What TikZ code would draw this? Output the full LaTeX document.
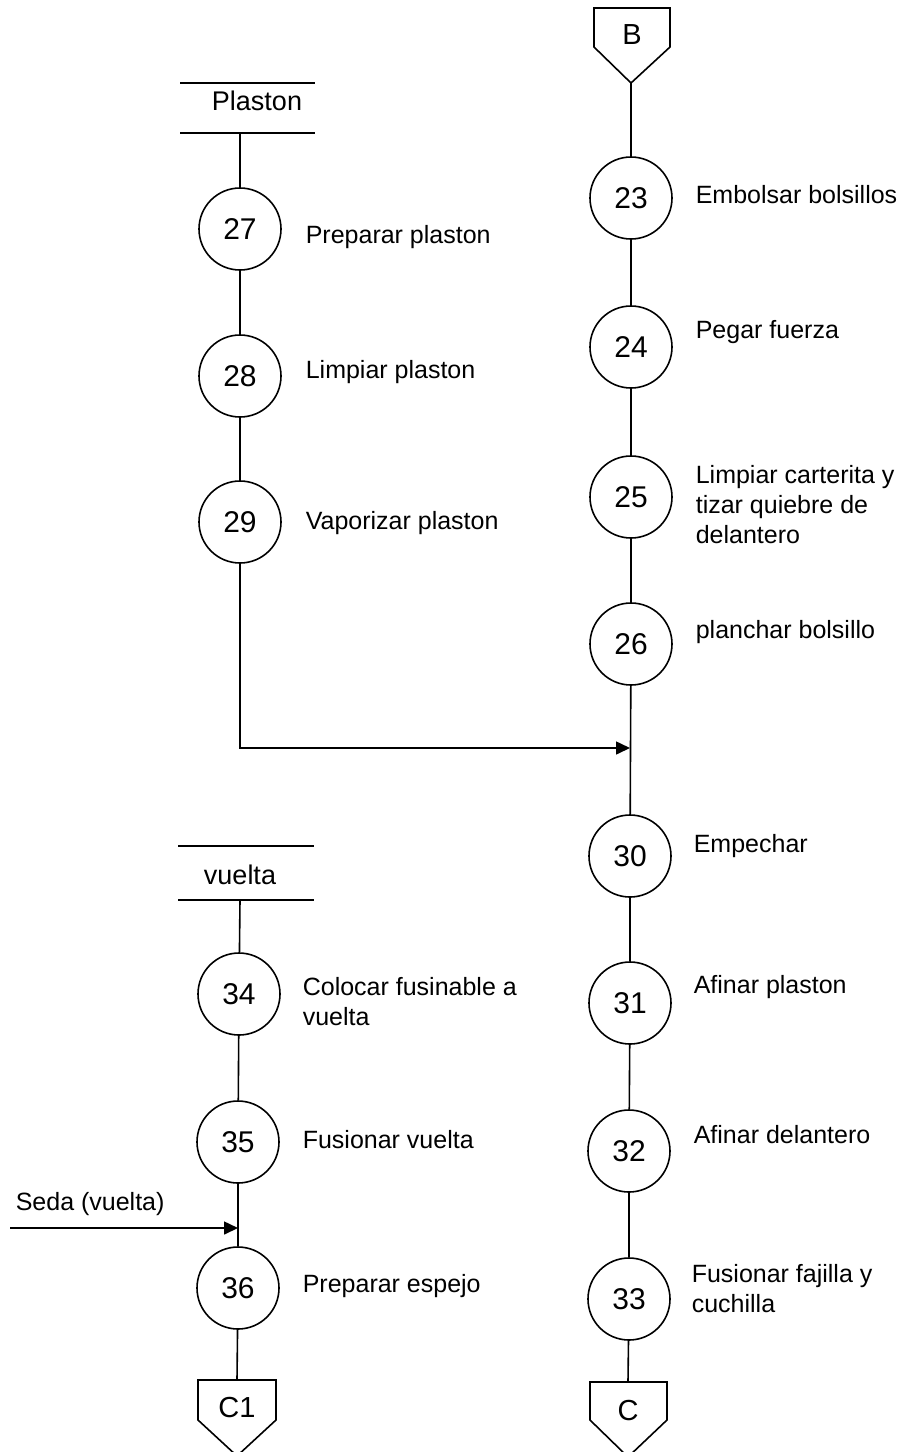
\documentclass[tikz,border=0pt]{standalone}
\usepackage{fontspec}
\setmainfont{Liberation Sans}
\usetikzlibrary{arrows.meta}
\begin{document}
\begin{tikzpicture}[x=0.5pt,y=-0.5pt,
  line width=0.8pt,
  op/.style={circle,draw,minimum size=41pt,inner sep=0pt,font=\fontsize{15}{17}\selectfont},
  lbl/.style={anchor=west,align=left,inner sep=0pt,font=\fontsize{12.5}{15}\selectfont},
  store/.style={minimum width=67.5pt,minimum height=25pt,inner sep=0pt},
  storetext/.style={inner sep=0pt,font=\fontsize{13.5}{15}\selectfont},
  conn/.style={inner sep=0pt,font=\fontsize{14.5}{16}\selectfont},
  flow/.style={-{Triangle[length=7pt,width=6.5pt]}}]
\useasboundingbox (0,0) rectangle (912,1452);

% ---- off-page connectors ----
\node[conn] (B) at (632,35) {B};
\draw (594,8) -- (670,8) -- (670,47) -- (631,83) -- (594,47) -- cycle;
\coordinate (Btip) at (631,83);

\node[conn] (C1) at (237,1407) {C1};
\draw (198,1380) -- (276,1380) -- (276,1420) -- (237,1456) -- (198,1420) -- cycle;
\coordinate (C1top) at (237,1380);

\node[conn] (C) at (628,1410) {C};
\draw (590,1382) -- (667,1382) -- (667,1420) -- (628,1457) -- (590,1420) -- cycle;
\coordinate (Ctop) at (628,1382);

% ---- storage symbols ----
\node[store] (plaston) at (247,108) {};
\node[storetext] (plastonT) at (257,101) {Plaston};
\draw (180,83) -- (315,83) (180,133) -- (315,133);
\coordinate (plastonB) at (240,133);

\node[store] (vuelta) at (246,873) {};
\node[storetext] (vueltaT) at (240,875) {vuelta};
\draw (178,846) -- (314,846) (178,900) -- (314,900);
\coordinate (vueltaB) at (240,900);

% ---- left column: plaston ----
\node[op] (c27) at (240,229) {27};
\node[op] (c28) at (240,376) {28};
\node[op] (c29) at (240,522) {29};
\node[lbl] (t27) at (305,237) {Preparar plaston};
\node[lbl] (t28) at (305,372) {Limpiar plaston};
\node[lbl] (t29) at (305,523) {Vaporizar plaston};

% ---- right column ----
\node[op] (c23) at (631,198) {23};
\node[op] (c24) at (631,347) {24};
\node[op] (c25) at (631,497) {25};
\node[op] (c26) at (631,644) {26};
\node[op] (c30) at (630,856) {30};
\node[op] (c31) at (630,1003) {31};
\node[op] (c32) at (629,1151) {32};
\node[op] (c33) at (629,1299) {33};
\node[lbl] (t23) at (695,195) {Embolsar bolsillos};
\node[lbl] (t24) at (695,332) {Pegar fuerza};
\node[lbl] (t25) at (695,505) {Limpiar carterita y\\tizar quiebre de\\delantero};
\node[lbl] (t26) at (695,632) {planchar bolsillo};
\node[lbl] (t30) at (693,846) {Empechar};
\node[lbl] (t31) at (693,987) {Afinar plaston};
\node[lbl] (t32) at (693,1135) {Afinar delantero};
\node[lbl] (t33) at (691,1289) {Fusionar fajilla y\\cuchilla};

% ---- left column: vuelta ----
\node[op] (c34) at (239,994) {34};
\node[op] (c35) at (238,1142) {35};
\node[op] (c36) at (238,1288) {36};
\node[lbl] (t34) at (302,1002) {Colocar fusinable a\\vuelta};
\node[lbl] (t35) at (302,1140) {Fusionar vuelta};
\node[lbl] (t36) at (302,1286) {Preparar espejo};
\node[lbl] (seda) at (15,1204) {Seda (vuelta)};

% ---- junction points ----
\coordinate (j1) at (630,748);
\coordinate (j2) at (238,1228);
\coordinate (sedaS) at (10,1228);

% ---- flow lines ----
\draw (Btip) -- (c23);
\draw (c23) -- (c24);
\draw (c24) -- (c25);
\draw (c25) -- (c26);
\draw (c26) -- (c30);
\draw (c30) -- (c31);
\draw (c31) -- (c32);
\draw (c32) -- (c33);
\draw (c33) -- (Ctop);

\draw (plastonB) -- (c27);
\draw (c27) -- (c28);
\draw (c28) -- (c29);
\draw[flow] (c29.south) |- (j1);

\draw (vueltaB) -- (c34);
\draw (c34) -- (c35);
\draw (c35) -- (c36);
\draw (c36) -- (C1top);
\draw[flow] (sedaS) -- (j2);
\end{tikzpicture}
\end{document}
